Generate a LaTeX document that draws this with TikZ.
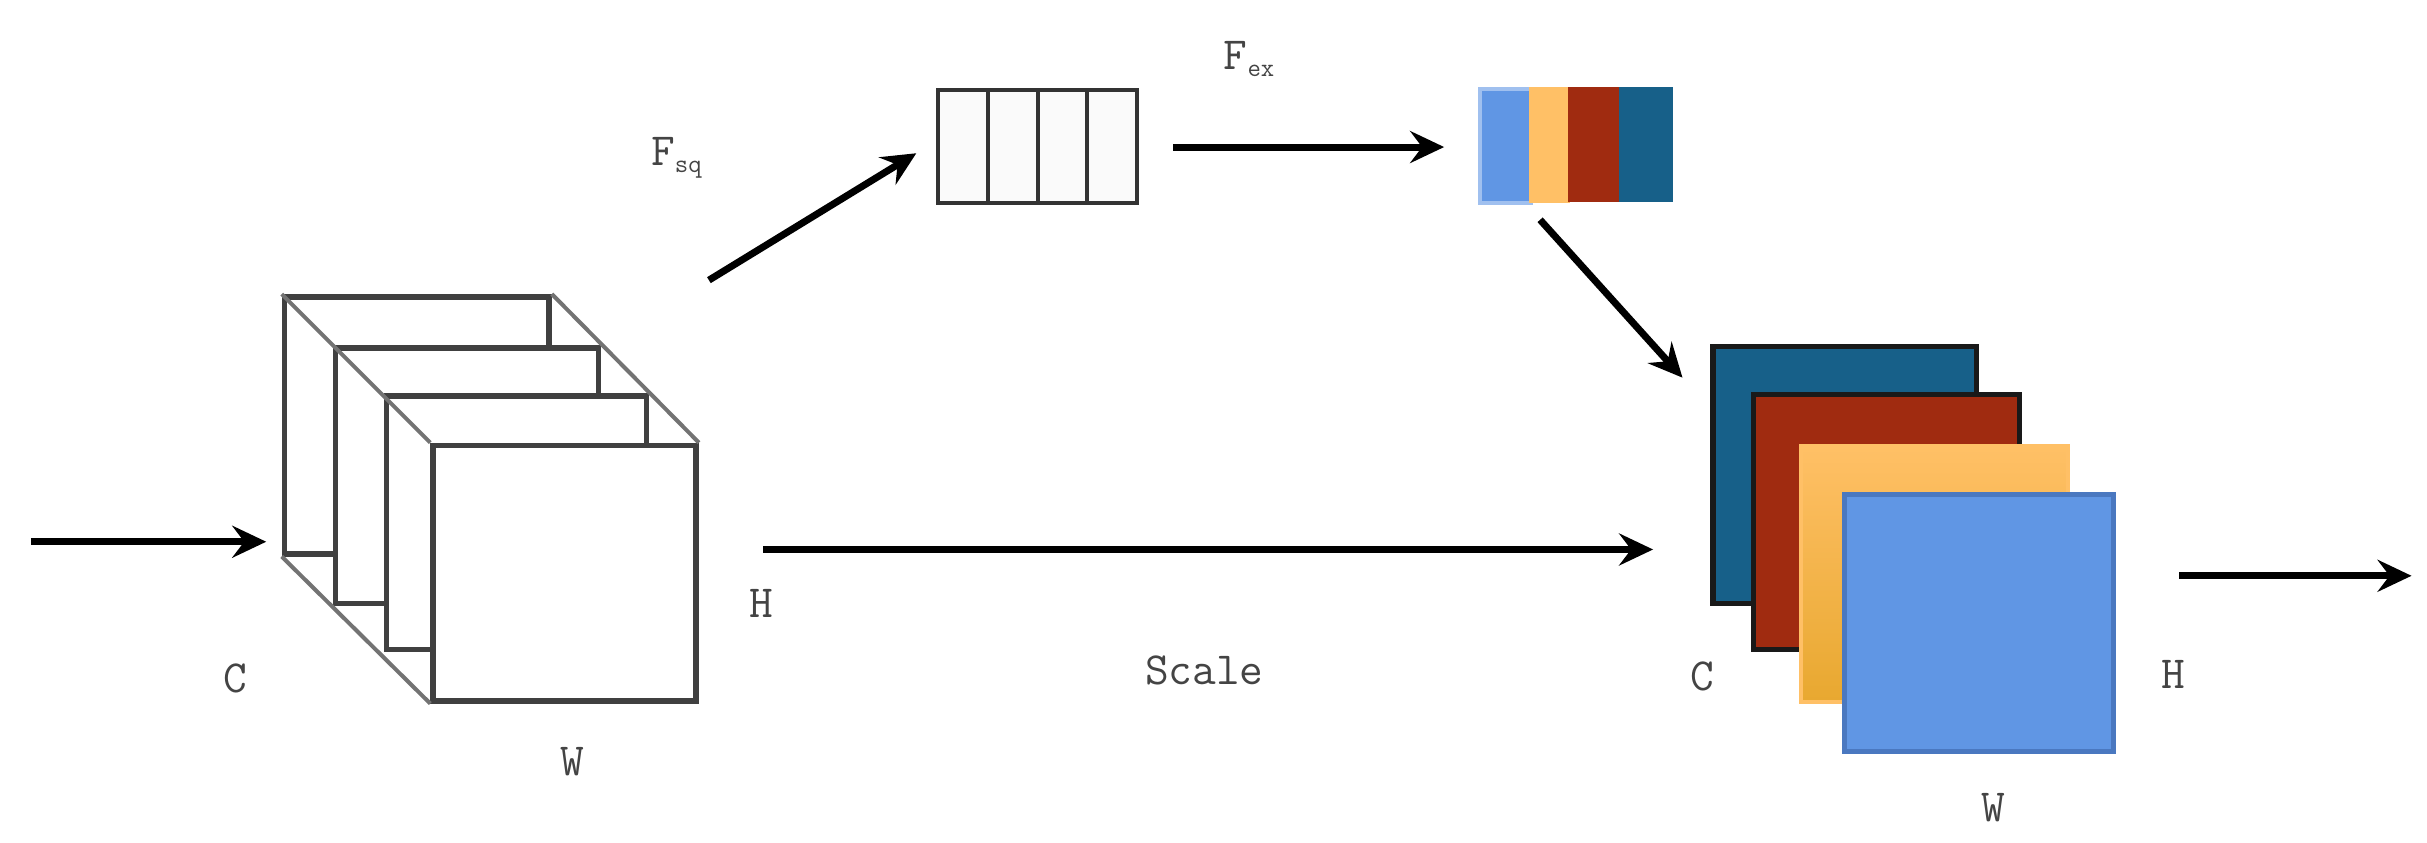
\documentclass[tikz,border=0pt]{standalone}
\usepackage{fontspec}
\usetikzlibrary{arrows.meta}
\definecolor{dblue}{HTML}{176089}
\definecolor{dred}{HTML}{A02B10}
\definecolor{orng}{HTML}{FFC066}
\definecolor{orng2}{HTML}{E8A830}
\definecolor{lblue}{HTML}{6096E4}
\definecolor{lblueb}{HTML}{4A78C0}
\definecolor{txt}{HTML}{444444}
\begin{document}
\begin{tikzpicture}[x=1.548pt,y=-1.548pt,
  arr/.style={line width=7pt,-{Stealth[length=34pt,width=32pt,inset=12pt]}},
  sq/.style={draw=black!75,line width=5.5pt,fill=white},
  diag/.style={draw=black!55,line width=4pt},
  lab/.style={text=txt,font=\ttfamily\fontsize{46}{50}\selectfont,inner sep=0pt},
  sub/.style={},
  cell/.style={draw=black!80,line width=4pt,fill=black!2}]
\useasboundingbox (0,0) rectangle (1568,544.6);
% left cube
\node[sq,minimum width=171*1.548pt,minimum height=166*1.548pt,anchor=north west] (s1) at (182,190) {};
\node[sq,minimum width=170*1.548pt,minimum height=165*1.548pt,anchor=north west] (s2) at (215,223) {};
\node[sq,minimum width=168*1.548pt,minimum height=164*1.548pt,anchor=north west] (s3) at (248,254) {};
\node[sq,minimum width=170*1.548pt,minimum height=165*1.548pt,anchor=north west] (s4) at (278,286) {};
\draw[diag] (s1.north west) -- (s4.north west);
\draw[diag] (s1.north east) -- (s4.north east);
\draw[diag] (s1.south west) -- (s4.south west);
% right stack
\node[draw=black!90,line width=5.5pt,fill=dblue,minimum width=170*1.548pt,minimum height=166*1.548pt,anchor=north west] (r1) at (1105,222) {};
\node[draw=black!90,line width=5.5pt,fill=dred,minimum width=172*1.548pt,minimum height=165*1.548pt,anchor=north west] (r2) at (1131,253) {};
\node[draw=orng,line width=4pt,top color=orng,bottom color=orng2,minimum width=173*1.548pt,minimum height=165*1.548pt,anchor=north west] (r3) at (1162,287) {};
\node[draw=lblueb,line width=5pt,fill=lblue,minimum width=174*1.548pt,minimum height=166*1.548pt,anchor=north west] (r4) at (1190,318) {};
% squeeze vector
\foreach \i in {0,1,2,3}{
  \node[cell,minimum width=32*1.548pt,minimum height=73*1.548pt,anchor=north west] (c\i) at (605+32*\i,57) {};}
% excitation vector
\node[draw=lblue!60,line width=4pt,fill=lblue,minimum width=33*1.548pt,minimum height=74*1.548pt,anchor=north west] (e0) at (955,56) {};
\node[draw=orng,line width=2pt,fill=orng,minimum width=25*1.548pt,minimum height=74*1.548pt,anchor=north west] (e1) at (988,56) {};
\node[draw=dred,fill=dred,minimum width=33*1.548pt,minimum height=74*1.548pt,anchor=north west] (e2) at (1013,56) {};
\node[draw=dblue,fill=dblue,minimum width=34*1.548pt,minimum height=74*1.548pt,anchor=north west] (e3) at (1046,56) {};
% coordinates for arrows
\coordinate (in0) at (20,350); \coordinate (in1) at (172,350);
\coordinate (m0) at (493,355); \coordinate (m1) at (1068,355);
\coordinate (o0) at (1408,372); \coordinate (o1) at (1558,372);
\coordinate (q0) at (458,181); \coordinate (q1) at (592,99);
\coordinate (x0) at (758,95); \coordinate (x1) at (933,95);
\coordinate (z0) at (995,142); \coordinate (z1) at (1087,244);
\draw[arr] (in0) -- (in1);
\draw[arr] (m0) -- (m1);
\draw[arr] (o0) -- (o1);
\draw[arr] (q0) -- (q1);
\draw[arr] (x0) -- (x1);
\draw[arr] (z0) -- (z1);
% labels
\node[lab] (lc1) at (152,438) {C};
\node[lab] (lw1) at (370,492) {W};
\node[lab] (lh1) at (492,390) {H};
\node[lab] (ls) at (778,433) {Scale};
\node[lab] (lc2) at (1100,437) {C};
\node[lab] (lh2) at (1404,436) {H};
\node[lab] (lw2) at (1288,522) {W};
\node[lab] (fsq) at (437,102) {F\raisebox{-0.35ex}{\fontsize{26}{28}\selectfont sq}};
\node[lab] (fex) at (807,38) {F\raisebox{-0.35ex}{\fontsize{26}{28}\selectfont ex}};
\end{tikzpicture}
\end{document}
